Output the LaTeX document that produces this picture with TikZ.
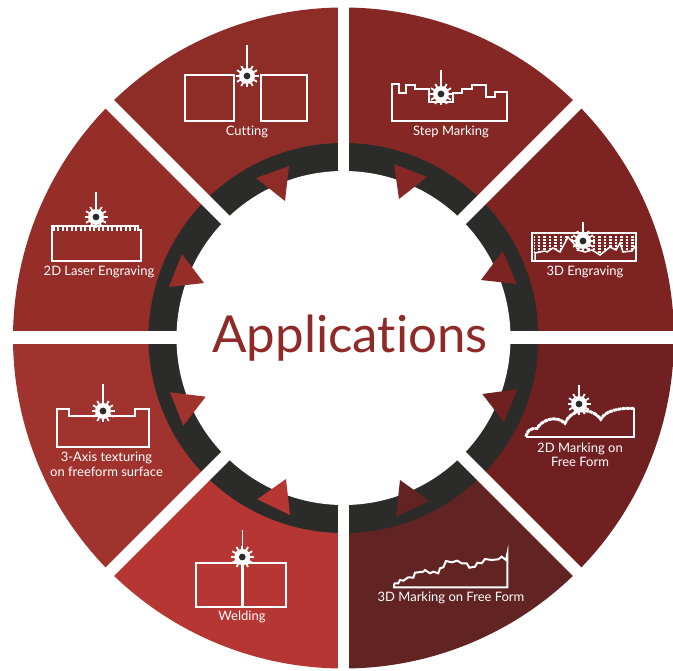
\documentclass[tikz,border=0pt]{standalone}
\usepackage{fontspec}
\setmainfont{Lato}[Ligatures=NoCommon]
\definecolor{ringgray}{HTML}{2B2B29}
\definecolor{cutcol}{HTML}{8E2C27}
\definecolor{stepcol}{HTML}{852825}
\definecolor{engravecol}{HTML}{7D2423}
\definecolor{markcol}{HTML}{712022}
\definecolor{freecol}{HTML}{622323}
\definecolor{weldcol}{HTML}{B63633}
\definecolor{texturecol}{HTML}{A1332E}
\definecolor{lasercol}{HTML}{952D28}
\definecolor{titlecol}{HTML}{8F2A29}

\tikzset{
    pics/laser/.style={code={
        \draw[white, line width=1.2pt] (0,0) -- (0,-#1);
        \fill[white] (0,0) circle (8pt);
        \foreach \a in {0,30,...,330}
            \draw[white, line width=1.8pt] (0,0) -- (\a:11.5);
        \fill[ringgray] (0,0) circle (3.4pt);
    }}
}

\begin{document}
\begin{tikzpicture}[
            x = 1pt,
            y = -1pt,
            line join = miter
        ]

        \tikzstyle{every node}=[
            text = white,
            font = \fontsize{13}{14.5}\selectfont,
            align = center,
            inner sep = 0pt
        ]
        \tikzstyle{outline}=[
            draw = white,
            line width = 2pt
        ]
        \tikzstyle{slicegap}=[
            draw = white,
            line width = 12pt
        ]

        \useasboundingbox (0,0) rectangle (673,671);

        % sectors
        \begin{scope}[shift={(343.5,338)}, y=1pt]
            \fill[stepcol] (0,0) -- (45:330.5pt) arc (45:90:330.5pt) -- cycle;
            \fill[engravecol] (0,0) -- (0:330.5pt) arc (0:45:330.5pt) -- cycle;
            \fill[markcol] (0,0) -- (-45:330.5pt) arc (-45:0:330.5pt) -- cycle;
            \fill[freecol] (0,0) -- (-90:330.5pt) arc (-90:-45:330.5pt) -- cycle;
            \fill[weldcol] (0,0) -- (225:330.5pt) arc (225:270:330.5pt) -- cycle;
            \fill[texturecol] (0,0) -- (180:330.5pt) arc (180:225:330.5pt) -- cycle;
            \fill[lasercol] (0,0) -- (135:330.5pt) arc (135:180:330.5pt) -- cycle;
            \fill[cutcol] (0,0) -- (90:330.5pt) arc (90:135:330.5pt) -- cycle;

            % ring and gaps
            \fill[ringgray] (0,0) circle (195pt);
            \fill[white] (0,0) circle (167pt);
            \draw[slicegap, line width=11pt] (90:345pt) -- (270:345pt);
            \draw[slicegap, line width=13pt] (0:345pt) -- (180:345pt);
            \draw[slicegap] (45:345pt) -- (225:345pt);
            \draw[slicegap] (135:345pt) -- (315:345pt);
        \end{scope}

        % triangles on the ring
        \fill[cutcol] (256,178) -- (289,166) -- (285,201) -- cycle;
        \fill[stepcol] (394,164) -- (427,177) -- (399,199) -- cycle;
        \fill[engravecol] (502.7,251) -- (516.7,284) -- (481,280) -- cycle;
        \fill[markcol] (482.3,394) -- (517.3,389.3) -- (504,422.3) -- cycle;
        \fill[freecol] (400,480) -- (429.3,501) -- (396,516.7) -- cycle;
        \fill[weldcol] (286,479) -- (257.3,499.3) -- (290,515) -- cycle;
        \fill[texturecol] (170,392.3) -- (205.7,396.7) -- (183.3,425.7) -- cycle;
        \fill[lasercol] (182,254) -- (204,283) -- (169,287) -- cycle;

        \node (Title) at (350,353) [anchor=base, text=titlecol, font=\fontsize{51}{60}\selectfont] {Applications};

        % cutting
        \draw[outline] (184.5,75) rectangle (234,121);
        \draw[outline] (261,75) rectangle (307,121);
        \pic at (247,76) {laser=31};
        \node (Cutting) at (247,132) {Cutting};

        % step marking
        \draw[outline] (392,120.7) -- (392,84.3) -- (399.3,84.3) -- (399.3,93.3) -- (406,93.3) -- (406,85)
            -- (415,85) -- (415,89.3) -- (429.3,89.3) -- (429.3,101.7) -- (453.3,101.7) -- (453.3,93.3)
            -- (461.7,93.3) -- (461.7,89.3) -- (471.7,89.3) -- (471.7,85) -- (485.7,85) -- (485.7,96.7)
            -- (495,96.7) -- (495,91.7) -- (507.3,91.7) -- (507.3,120.7) -- cycle;
        \pic at (441,94) {laser=24};
        \node (StepMarking) at (451,132) {Step Marking};

        % 3d engraving
        \draw[outline] (532,233.5) rectangle (636,261.5);
        \begin{scope}
            \clip (534,235) -- (534,253) -- (545,251) -- (547,252) -- (553,248) -- (560,252) -- (568,237)
                -- (575,245) -- (578,250) -- (585,252) -- (592,250) -- (600,255) -- (610,247) -- (616,250)
                -- (620,243) -- (623,252) -- (632,251) -- (636,245) -- (636,235) -- cycle;
            \foreach \h in {237,240,...,255}
                \draw[white, line width=1.4pt, dash pattern=on 2.5pt off 3pt] (532,\h) -- (636,\h);
        \end{scope}
        \draw[white, line width=1.5pt] (535,261) -- (535,253) -- (545,251) -- (547,252) -- (553,248)
            -- (560,252) -- (568,237) -- (575,245) -- (578,250) -- (585,252) -- (592,250) -- (600,255)
            -- (610,247) -- (616,250) -- (620,243) -- (623,252) -- (632,251) -- (636,245);
        \pic at (583,241) {laser=19};
        \node (Engraving) at (585,272) {3D Engraving};

        % 2d marking on free form
        \draw[outline] (526,437.3) -- (634,437.3) -- (634,408.3);
        \draw[white, line width=1.6pt] (526,436.7) .. controls (527,431) and (530,428) .. (537,428.5)
            .. controls (541,421) and (555,414) .. (565,423.3) .. controls (570,410) and (590,405) .. (600.7,419.3)
            .. controls (606,410) and (620,408) .. (634,408.3);
        \draw[white, line width=3pt, dash pattern=on 3.5pt off 0.8pt] (526,436.7) .. controls (527,431) and (530,428) .. (537,428.5)
            .. controls (541,421) and (555,414) .. (565,423.3) .. controls (570,410) and (590,405) .. (600.7,419.3)
            .. controls (606,410) and (620,408) .. (634,408.3);
        \pic at (579,404) {laser=19};
        \node (Marking) at (580,455) {2D Marking on\\Free Form};

        % 3d marking on free form
        \draw[outline] (394,583.3) -- (394,587.3) -- (507.3,587.3) -- (507.3,554) -- (506,560) -- (501.7,556.7)
            -- (498.3,559.3) -- (491.7,560) -- (485,559) -- (481.7,563.3) -- (477.3,562.7) -- (475,566.7)
            -- (469.3,567.7) -- (466.7,563.3) -- (461.7,563.3) -- (457.3,560.7) -- (451.7,562.3) -- (446,561)
            -- (443.3,567.3) -- (440,568.3) -- (438.3,573.3) -- (433.3,571.7) -- (430,573.3) -- (425,570)
            -- (423.3,571.7) -- (415,572.7) -- (413.3,577.7) -- (408.3,577.3) -- (403.3,580.7) -- (400,580)
            -- (398.3,583.3) -- (394,583.3);
        \node (FreeForm) at (451,598) {3D Marking on Free Form};

        % welding
        \draw[outline] (196,563.3) rectangle (285.7,606.7);
        \draw[white, line width=3pt] (242.3,557) -- (242.3,606.7);
        \pic at (242.3,557) {laser=27};
        \node (Welding) at (242,616.5) {Welding};

        % 3-axis texturing
        \draw[outline] (57.3,409) -- (69.3,409) -- (69.3,415.7) -- (135,415.7) -- (135,409) -- (149.3,409)
            -- (149.3,446.7) -- (57.3,446.7) -- cycle;
        \pic at (103,411) {laser=27};
        \node (Texturing) at (106.5,464.5) {3-Axis texturing\\on freeform surface};

        % 2d laser engraving
        \draw[outline] (52,225.7) -- (52,261) -- (141,261) -- (141,230) -- (138.3,230) -- (138.3,225.7) -- cycle;
        \foreach \n in {0,...,18}
            \fill[white] (52.5+4.5*\n,226) rectangle (54.7+4.5*\n,230.8);
        \pic at (96,217) {laser=25};
        \node (LaserEngraving) at (99,272) {2D Laser Engraving};

\end{tikzpicture}
\end{document}
